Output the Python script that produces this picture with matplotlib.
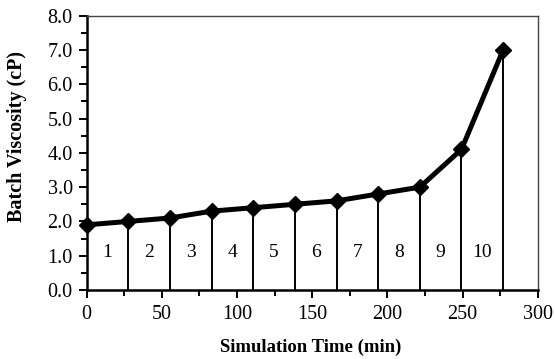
import numpy as np
import matplotlib.pyplot as plt
from matplotlib.ticker import MultipleLocator, FormatStrFormatter

plt.rcParams['font.family'] = ['Liberation Serif', 'DejaVu Serif']

# batch end times (min) and viscosity (cP)
time_min = [0, 27.7, 55.4, 83.1, 110.8, 138.5, 166.2, 193.9, 221.6, 249.3, 277.0]
viscosity = [1.9, 2.0, 2.1, 2.3, 2.4, 2.5, 2.6, 2.8, 3.0, 4.1, 7.0]
batch_labels = ['1', '2', '3', '4', '5', '6', '7', '8', '9', '10']
label_y = 1.1

fig = plt.figure(figsize=(5.55, 3.59), dpi=100)
ax = fig.add_axes([86.7 / 555, 1 - 290 / 359, 451 / 555, 274.3 / 359])

# drop lines from each point down to the axis
ax.vlines(time_min[1:], 0, viscosity[1:], colors='black', linewidth=1.4, zorder=2)

ax.plot(time_min, viscosity, color='black', linewidth=3.6, marker='D',
        markersize=8.5, zorder=3, clip_on=False)

for i, lab in enumerate(batch_labels):
    xm = (time_min[i] + time_min[i + 1]) / 2
    ax.text(xm, label_y, lab, ha='center', va='center', fontsize=14)

ax.set_xlim(0, 300)
ax.set_ylim(0, 8)
ax.xaxis.set_major_locator(MultipleLocator(50))
ax.xaxis.set_minor_locator(MultipleLocator(25))
ax.yaxis.set_major_locator(MultipleLocator(1))
ax.yaxis.set_minor_locator(MultipleLocator(0.5))
ax.yaxis.set_major_formatter(FormatStrFormatter('%.1f'))

ax.tick_params(which='both', direction='out', width=1.4, labelsize=14.5, colors='black')
ax.tick_params(which='major', length=6)
ax.tick_params(which='minor', length=4)
ax.tick_params(axis='y', pad=4)
ax.tick_params(axis='x', pad=5)

for s in ['left', 'bottom']:
    ax.spines[s].set_linewidth(1.8)
for s in ['top', 'right']:
    ax.spines[s].set_linewidth(1.0)
    ax.spines[s].set_color('#444444')

fig.text(311 / 555, 1 - 347 / 359, 'Simulation Time (min)', fontsize=13.5,
         fontweight='bold', ha='center', va='center')
fig.text(17 / 555, 1 - 137 / 359, 'Batch Viscosity (cP)', fontsize=14.5,
         fontweight='bold', ha='center', va='center', rotation=90)

fig.savefig('out.png', dpi=100)
